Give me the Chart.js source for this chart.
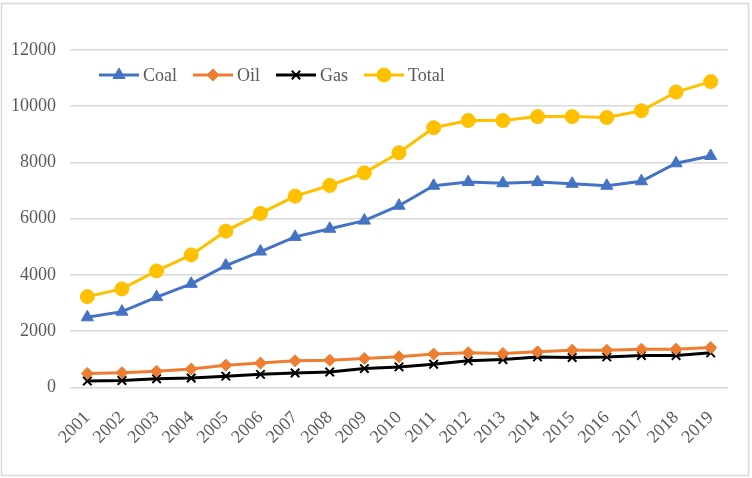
<!DOCTYPE html>
<html>
<head>
<meta charset="utf-8">
<script src="https://cdn.jsdelivr.net/npm/chart.js@4"></script>
<style>
html,body{margin:0;padding:0;background:#fff;}
#wrap{width:752px;height:478px;position:relative;}
</style>
</head>
<body>
<div id="wrap"><canvas id="c" width="752" height="478"></canvas></div>
<script>
const years = ["2001","2002","2003","2004","2005","2006","2007","2008","2009","2010","2011","2012","2013","2014","2015","2016","2017","2018","2019"];
const coal  = [2490,2690,3210,3680,4330,4830,5350,5640,5930,6460,7170,7300,7260,7300,7240,7170,7330,7970,8230];
const oil   = [490,520,570,650,785,860,940,965,1025,1085,1180,1225,1200,1260,1320,1320,1355,1355,1415];
const gas   = [225,240,300,330,395,460,510,545,665,725,820,940,990,1080,1060,1080,1130,1130,1225];
const total = [3225,3500,4140,4710,5555,6185,6800,7180,7630,8345,9235,9490,9490,9630,9630,9600,9840,10505,10875];
const yTicks = [0,2000,4000,6000,8000,10000,12000];

const FONT = "'Liberation Serif','Times New Roman',serif";
const TXT = '#595959';
const FS = 18;

const borderPlugin = {
  id:'frame',
  beforeDraw(chart){
    const ctx = chart.ctx;
    ctx.save();
    ctx.fillStyle='#fff';
    ctx.fillRect(0,0,chart.width,chart.height);
    ctx.strokeStyle='#d9d9d9';
    ctx.lineWidth=1.5;
    ctx.strokeRect(1.5,3.5,747,472);
    ctx.restore();
  }
};

const legendPlugin = {
  id:'lineLegend',
  afterDraw(chart){
    const ctx = chart.ctx;
    let x = 99;
    const y = 75;
    chart.data.datasets.forEach(ds=>{
      ctx.save();
      ctx.strokeStyle = ds.borderColor;
      ctx.lineWidth = 3;
      ctx.beginPath();
      ctx.moveTo(x,y); ctx.lineTo(x+40,y);
      ctx.stroke();
      ctx.fillStyle = ds.pointBackgroundColor;
      ctx.strokeStyle = ds.pointBorderColor;
      ctx.lineWidth = ds.pointBorderWidth || 1;
      Chart.helpers.drawPoint(ctx,{pointStyle: ds.pointStyle, radius: ds.pointRadius, borderWidth: ds.pointBorderWidth||1, rotation:0}, x+20, y);
      ctx.font = FS + 'px ' + FONT;
      ctx.textBaseline = 'middle';
      ctx.textAlign='left';
      ctx.fillStyle = TXT;
      ctx.fillText(ds.label, x+44, y+1);
      x += 44 + ctx.measureText(ds.label).width + 16;
      ctx.restore();
    });
  }
};

function ds(label, data, color, style, radius, bw){
  return {
    label, data,
    borderColor: color, backgroundColor: color,
    pointBackgroundColor: color, pointBorderColor: color,
    pointStyle: style, pointRadius: radius, pointHoverRadius: radius,
    pointBorderWidth: bw, borderWidth: 3, tension: 0, fill:false
  };
}

new Chart(document.getElementById('c'), {
  type:'line',
  data:{
    labels: years,
    datasets:[
      ds('Coal', coal, '#4472C4', 'triangle', 7, 1),
      ds('Oil', oil, '#ED7D31', 'rectRot', 6, 1),
      ds('Gas', gas, '#000000', 'crossRot', 6, 2),
      ds('Total', total, '#FFC000', 'circle', 7, 1)
    ]
  },
  options:{
    responsive:false,
    animation:false,
    devicePixelRatio:1,
    layout:{padding:{left:10,right:24,top:50,bottom:18}},
    plugins:{legend:{display:false}, tooltip:{enabled:false}},
    scales:{
      x:{
        offset:true,
        grid:{display:false},
        border:{display:false},
        ticks:{autoSkip:false, maxRotation:45, minRotation:45, color:TXT, font:{family:FONT,size:FS}, padding:12}
      },
      y:{
        min:0, max:12000,
        afterBuildTicks(axis){ axis.ticks = yTicks.map(v=>({value:v})); },
        afterFit(axis){ axis.width = 60; },
        grid:{color:'#d9d9d9', lineWidth:1.5, drawTicks:false},
        border:{display:false},
        ticks:{color:TXT, font:{family:FONT,size:FS}, padding:14, callback:(v)=>String(v)}
      }
    }
  },
  plugins:[borderPlugin, legendPlugin]
});
</script>
</body>
</html>
